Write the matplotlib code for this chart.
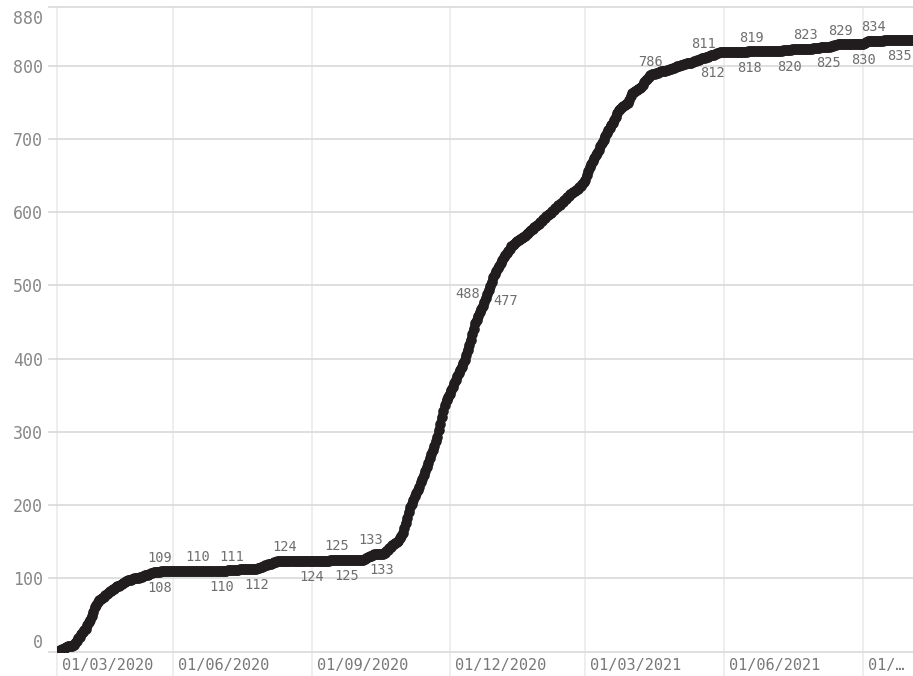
import matplotlib
matplotlib.use("Agg")
import matplotlib.pyplot as plt
from matplotlib.transforms import ScaledTranslation
import pandas as pd

# ---------------- data ----------------
start_date = "2020-03-16"
deaths = [
    0, 1, 2, 3, 4, 5, 6, 7, 7, 8,
    8, 9, 12, 15, 18, 20, 24, 27, 29, 31,
    36, 40, 43, 48, 54, 61, 64, 67, 70, 72,
    73, 75, 77, 78, 80, 82, 83, 85, 86, 88,
    89, 90, 91, 92, 94, 95, 96, 97, 98, 98,
    99, 100, 100, 101, 101, 102, 102, 103, 104, 104,
    105, 106, 107, 107, 108, 108, 109, 109, 109, 110,
    110,
    110, 110, 110, 110, 110, 110, 110, 110, 110, 110,
    110, 110, 110, 110, 110, 110, 110, 110, 110, 110,
    110, 110, 110, 110, 110, 110, 110, 110, 110, 110,
    110, 110, 110, 110, 110, 110, 110, 110, 110, 110,
    110, 110,
    111, 111, 111, 111, 111, 111, 111, 111,
    112, 112, 112, 112, 112, 112, 112, 112, 112, 112, 112,
    113, 114, 114, 115, 116, 117, 118, 118, 119, 120,
    120, 121, 122, 122, 123, 123, 124, 124, 124, 124,
    124, 124, 124, 124, 124, 124, 124, 124, 124, 124,
    124, 124, 124, 124, 124, 124, 124, 124, 124, 124,
    124, 124, 124, 124, 124, 124, 124, 124, 124,
    125, 125, 125, 125, 125, 125, 125, 125, 125, 125,
    125, 125, 125, 125, 125, 125, 125, 125, 125, 125,
    125, 125, 125,
    126, 127, 129, 130, 131, 132, 133, 133, 133, 133, 133, 133, 133,
    135, 137, 139, 141, 143, 145, 147,
    148, 149, 151, 155, 158, 162,
    168, 175, 182, 190, 197,
    202, 207, 212, 217, 221, 225,
    231, 236, 241, 247, 252,
    258, 264, 270, 275,
    281, 287, 293,
    302, 311, 320,
    328, 336, 344,
    348, 352, 357, 361,
    366, 371, 376, 380,
    385, 389, 394, 398,
    405, 412, 418, 425,
    433, 441, 448,
    453, 458, 463, 468, 472, 477,
    483, 488, 494, 499, 505, 511,
    515, 519, 523, 527, 531, 535,
    538, 541, 544, 547, 550, 553, 555,
    557, 559, 561, 562, 563, 565, 566,
    568, 570, 572, 574, 576, 577, 579, 581, 582,
    584, 586, 588, 590, 592, 594, 596, 598, 599,
    601, 603, 605, 607, 609, 610,
    612, 614, 616, 618, 620, 622, 624, 626, 627, 629, 630,
    632, 634, 636, 638, 641, 644,
    650, 656, 662,
    666, 670, 674, 678, 681,
    685, 690, 694,
    699, 704, 708,
    712, 715, 719, 722,
    726, 730, 735, 739,
    741, 743, 745, 746, 748, 749,
    753, 758, 762,
    764, 765, 767, 768, 770, 771,
    774, 777, 780, 782, 785, 787,
    788, 788, 789, 790, 790, 791,
    792, 792, 793, 793, 794, 794, 795,
    796, 797, 797, 798, 799, 800, 801,
    801, 802, 802, 803, 803, 804, 804, 805,
    806, 806, 807, 808, 809, 810, 811, 811, 812,
    812, 813, 814, 815, 815, 816, 817, 817, 818, 818, 819,
    819, 819, 819, 819, 819, 819, 819, 819, 819, 819, 819, 819, 819, 819, 819, 819,
    820, 820, 820, 820, 820, 820, 820, 820, 820, 820, 820, 820, 820,
    820, 820, 820, 820, 820, 820, 820, 820, 820, 820,
    821, 821, 821, 821, 821, 821,
    822, 822, 822, 822, 822,
    823, 823, 823, 823, 823,
    823, 823, 823, 823,
    824, 824, 824, 824, 824,
    825, 825, 825, 825, 825, 825,
    826, 827, 827, 828, 828, 829, 829, 829,
    829, 829, 829, 829, 829, 829, 829, 829,
    830, 830, 830, 830, 830, 830, 830,
    831, 832, 833, 834, 834, 834, 834,
    834, 834, 834, 834, 834, 834,
    835, 835, 835, 835, 835, 835, 835, 835, 835, 835,
    835, 835, 835, 835, 835, 835, 835, 835, 835, 835,
]
dates = pd.date_range(start_date, periods=len(deaths), freq="D")

x_tick_dates = pd.to_datetime(["2020-03-16", "2020-06-01", "2020-09-01", "2020-12-01",
                               "2021-03-01", "2021-06-01", "2021-09-01"])
x_tick_labels = ["01/03/2020", "01/06/2020", "01/09/2020", "01/12/2020",
                 "01/03/2021", "01/06/2021", "01/\u2026"]
y_ticks = [0, 100, 200, 300, 400, 500, 600, 700, 800, 880]

label_dates = pd.to_datetime([
    "2020-05-23", "2020-05-23", "2020-06-17", "2020-07-03", "2020-07-10", "2020-07-26",
    "2020-08-14", "2020-09-01", "2020-09-17", "2020-09-24", "2020-10-10", "2020-10-17",
    "2020-12-26", "2020-12-24",
    "2021-04-13", "2021-05-18", "2021-05-24", "2021-06-19", "2021-06-18", "2021-07-14",
    "2021-07-25", "2021-08-09", "2021-08-17", "2021-09-01", "2021-09-08", "2021-09-25",
])
label_values = [109, 108, 110, 110, 111, 112, 124, 124, 125, 125, 133, 133,
                488, 477,
                786, 811, 812, 819, 818, 820, 823, 825, 829, 830, 834, 835]
label_sides = ["above", "below", "above", "below", "above", "below",
               "above", "below", "above", "below", "above", "below",
               "left", "right",
               "above", "above", "below", "above", "below", "below",
               "above", "below", "above", "below", "above", "below"]

# ---------------- style ----------------
W, H, DPI = 913, 676, 100
line_color = "#211d1e"
hgrid_color = "#dcdcdc"
vgrid_color = "#ebebeb"
mono = "DejaVu Sans Mono"

fig = plt.figure(figsize=(W / DPI, H / DPI), dpi=DPI)
ax = fig.add_axes([57 / W, 1 - 651.5 / H, (W - 57) / W, (651.5 - 7) / H])

ax.plot(dates, deaths, color=line_color, lw=6.0, marker="o", ms=6.6,
        mec=line_color, mfc=line_color, solid_capstyle="round", zorder=3)

ax.set_xlim(dates[0], dates[-1])
ax.set_ylim(0, 880)

for s in ax.spines.values():
    s.set_visible(False)

ax.set_xticks(x_tick_dates)
ax.set_xticklabels(x_tick_labels)
ax.set_yticks(y_ticks)
ax.set_yticklabels([str(v) for v in y_ticks])

ax.tick_params(axis="x", length=18, width=1.2, color=vgrid_color, direction="out",
               pad=-13, labelsize=11, labelcolor="#787878")
ax.tick_params(axis="y", length=6.5, width=1.3, color=hgrid_color, direction="out",
               pad=3.6, labelsize=12, labelcolor="#888888")
for lab in ax.get_xticklabels():
    lab.set_fontfamily(mono)
    lab.set_horizontalalignment("left")
    lab.set_transform(lab.get_transform() + ScaledTranslation(5 / DPI, 0, fig.dpi_scale_trans))
for lab in ax.get_yticklabels():
    lab.set_fontfamily(mono)
ylabs = ax.get_yticklabels()
ylabs[0].set_transform(ylabs[0].get_transform() + ScaledTranslation(0, 10 / DPI, fig.dpi_scale_trans))
ylabs[-1].set_transform(ylabs[-1].get_transform() + ScaledTranslation(0, -10 / DPI, fig.dpi_scale_trans))

ax.grid(axis="x", color=vgrid_color, lw=1.2)
ax.grid(axis="y", color=hgrid_color, lw=1.3)
ax.set_axisbelow(True)
for gl in ax.get_xgridlines() + ax.get_ygridlines():
    gl.set_clip_on(False)

offsets = {"above": (0, 13.7), "below": (0, -16), "left": (-20, 0), "right": (21, 1.5)}
for d, v, side in zip(label_dates, label_values, label_sides):
    dx, dy = offsets[side]
    ax.annotate(str(v), xy=(d, v), xytext=(dx, dy), textcoords="offset pixels",
                ha="center", va="center", fontsize=9.8, color="#6e6e6e",
                fontfamily=mono, zorder=4)

fig.savefig("out.png", dpi=DPI)
